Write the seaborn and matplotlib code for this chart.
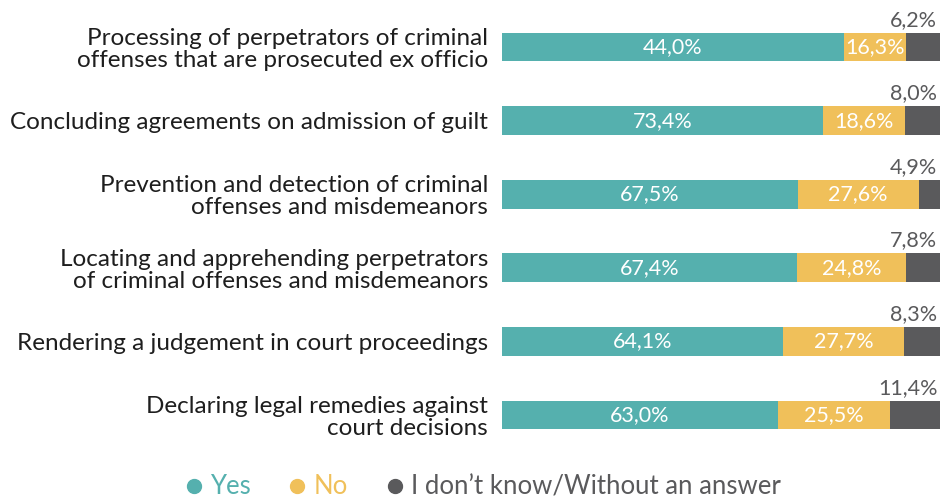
import matplotlib
matplotlib.use("Agg")
import matplotlib.pyplot as plt
import seaborn as sns
import pandas as pd
from matplotlib.lines import Line2D

categories = [
    "Processing of perpetrators of criminal\noffenses that are prosecuted ex officio",
    "Concluding agreements on admission of guilt",
    "Prevention and detection of criminal\noffenses and misdemeanors",
    "Locating and apprehending perpetrators\nof criminal offenses and misdemeanors",
    "Rendering a judgement in court proceedings",
    "Declaring legal remedies against\ncourt decisions",
]
yes_vals = [78.0, 73.4, 67.5, 67.4, 64.1, 63.0]
no_vals = [14.2, 18.6, 27.6, 24.8, 27.7, 25.5]
dk_vals = [7.8, 8.0, 4.9, 7.8, 8.3, 11.4]
yes_labels = ["44,0%", "73,4%", "67,5%", "67,4%", "64,1%", "63,0%"]
no_labels = ["16,3%", "18,6%", "27,6%", "24,8%", "27,7%", "25,5%"]
dk_labels = ["6,2%", "8,0%", "4,9%", "7,8%", "8,3%", "11,4%"]

C_YES = "#55b0ae"
C_NO = "#f0c05a"
C_DK = "#5a5a5c"
FONT = ["Lato", "DejaVu Sans"]

sns.set_theme(style="white")
plt.rcParams["font.family"] = FONT

df = pd.DataFrame({
    "cat": categories,
    "yes": yes_vals,
    "no": no_vals,
    "dk": dk_vals,
})
df["yes_no"] = df["yes"] + df["no"]
df["total"] = df["yes_no"] + df["dk"]

fig = plt.figure(figsize=(9.4, 4.99), dpi=100)
ax = fig.add_axes([502 / 940, 1 - 451.8 / 499, 1 - 502 / 940, (451.8 - 10.2) / 499])

w = 0.39
sns.barplot(data=df, y="cat", x="total", color=C_DK, width=w, ax=ax, orient="h", saturation=1)
sns.barplot(data=df, y="cat", x="yes_no", color=C_NO, width=w, ax=ax, orient="h", saturation=1)
sns.barplot(data=df, y="cat", x="yes", color=C_YES, width=w, ax=ax, orient="h", saturation=1)
for p in ax.patches:
    p.set_linewidth(0)

ax.set_xlim(0, 100)
ax.set_ylim(5.5, -0.5)

VAL_FS = 15.5
for i in range(len(categories)):
    ax.text(yes_vals[i] / 2, i, yes_labels[i], ha="center", va="center",
            color="white", fontsize=VAL_FS)
    ax.text(yes_vals[i] + no_vals[i] / 2, i, no_labels[i], ha="center", va="center",
            color="white", fontsize=VAL_FS)
    ax.text(99.4, i - w / 2 - 0.04, dk_labels[i], ha="right", va="bottom",
            color=C_DK, fontsize=VAL_FS)

ax.set_xlabel("")
ax.set_ylabel("")
ax.set_xticks([])
ax.tick_params(axis="y", length=0, pad=10)
ax.set_yticklabels(categories, fontsize=17.5, color="#1e1e1e", multialignment="right",
                   linespacing=1.05)
for s in ax.spines.values():
    s.set_visible(False)

handles = [
    Line2D([], [], marker="o", linestyle="", color=C_YES, markersize=10),
    Line2D([], [], marker="o", linestyle="", color=C_NO, markersize=10),
    Line2D([], [], marker="o", linestyle="", color=C_DK, markersize=10),
]
leg = fig.legend(handles, ["Yes", "No", "I don\u2019t know/Without an answer"],
                 loc="center", bbox_to_anchor=(481 / 940, 1 - 487 / 499), ncol=3,
                 frameon=False, fontsize=18.5, handletextpad=0.15, columnspacing=1.3,
                 handlelength=1.0)
for t, c in zip(leg.get_texts(), [C_YES, C_NO, C_DK]):
    t.set_color(c)

fig.savefig("out.png", dpi=100)
